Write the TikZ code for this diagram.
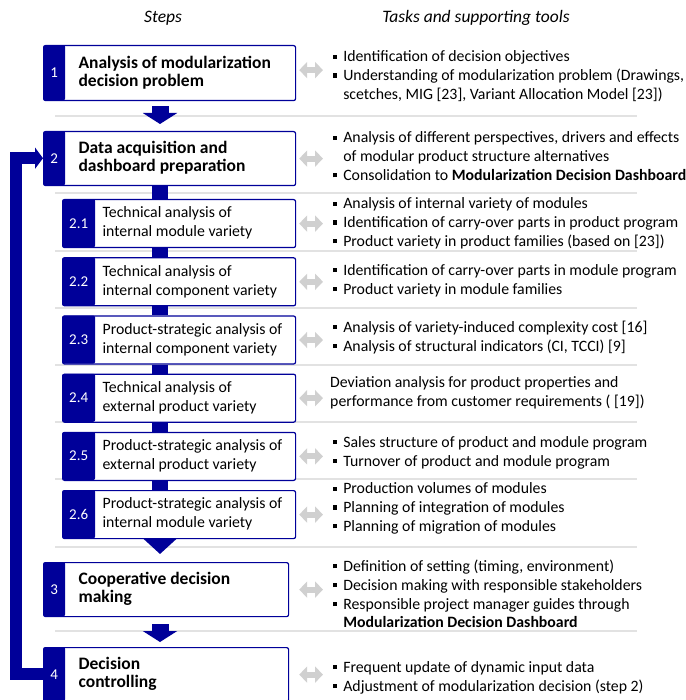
\documentclass[tikz,border=0pt]{standalone}
\usepackage{fontspec}
\setmainfont{Carlito}
\usetikzlibrary{arrows.meta,positioning}
\definecolor{navy}{RGB}{0,0,153}
\definecolor{toolgray}{RGB}{208,208,208}
\definecolor{sepgray}{RGB}{226,226,226}
\newcommand{\sqbul}{\rule[0.2em]{0.26em}{0.26em}}

\begin{document}
\begin{tikzpicture}[x=1pt,y=-1pt,
    stepbox/.style={draw=navy,line width=1.2pt,rounded corners=2pt,fill=white,inner sep=0pt,
                    anchor=north west,minimum width=252pt,minimum height=55pt},
    subbox/.style={stepbox,minimum width=233pt,minimum height=48pt},
    numbox/.style={fill=navy,rounded corners=2pt,inner sep=0pt,anchor=north west,text=white,
                   font=\fontsize{15}{16}\selectfont},
    steptext/.style={anchor=west,align=left,inner sep=0pt,font=\fontsize{17.5}{18}\selectfont\bfseries},
    subtext/.style={anchor=west,align=left,inner sep=0pt,font=\fontsize{15.8}{19}\selectfont},
    tasks/.style={anchor=west,inner sep=0pt,font=\fontsize{15.8}{18.8}\selectfont},
    head/.style={font=\fontsize{17.5}{18}\selectfont\itshape},
    flow/.style={navy,line width=17pt,-{Triangle[length=11pt,width=34pt]}},
    link/.style={navy,line width=16pt},
    back/.style={navy,line width=12pt,-{Triangle[length=8pt,width=21pt]}},
    tool/.style={toolgray,line width=6pt,{Triangle[length=8pt,width=16pt]}-{Triangle[length=8pt,width=16pt]}},
    sep/.style={sepgray,line width=1.2pt},
  ]
  \useasboundingbox (0,0) rectangle (685,700);
  \clip (0,0) rectangle (685,700);

  % separators
  \foreach \y in {116,193,251,308,365,422,479,547,631}
    \draw[sep] (55,\y) -- (637,\y);

  \node[head] (hsteps) at (163,18) {Steps};
  \node[head] (htasks) at (476,18) {Tasks and supporting tools};
  \coordinate (ax) at (160,0);

  % main steps
  \node[stepbox] (s1) at (43,45) {};
  \node[numbox,minimum width=22pt,minimum height=55pt] (n1) at (43,45) {1};
  \node[steptext] (t1) at ([xshift=13pt]n1.east) {Analysis of modularization\\decision problem};

  \node[stepbox,minimum height=54pt] (s2) at (43,131) {};
  \node[numbox,minimum width=22pt,minimum height=54pt] (n2) at (43,131) {2};
  \node[steptext] (t2) at ([xshift=13pt]n2.east) {Data acquisition and\\dashboard preparation};

  % sub steps
  \node[subbox] (s21) at (62,199) {};
  \node[subbox,below=9pt of s21] (s22) {};
  \node[subbox,below=9pt of s22] (s23) {};
  \node[subbox,below=9pt of s23] (s24) {};
  \node[subbox,below=9pt of s24] (s25) {};
  \node[subbox,below=9pt of s25] (s26) {};
  \draw[link] (s2.south -| ax) -- (s21.north -| ax);
  \draw[link] (s21.south -| ax) -- (s22.north -| ax);
  \draw[link] (s22.south -| ax) -- (s23.north -| ax);
  \draw[link] (s23.south -| ax) -- (s24.north -| ax);
  \draw[link] (s24.south -| ax) -- (s25.north -| ax);
  \draw[link] (s25.south -| ax) -- (s26.north -| ax);

  \node[numbox,minimum width=33pt,minimum height=48pt] (n21) at (s21.north west) {2.1};
  \node[numbox,minimum width=33pt,minimum height=48pt] (n22) at (s22.north west) {2.2};
  \node[numbox,minimum width=33pt,minimum height=48pt] (n23) at (s23.north west) {2.3};
  \node[numbox,minimum width=33pt,minimum height=48pt] (n24) at (s24.north west) {2.4};
  \node[numbox,minimum width=33pt,minimum height=48pt] (n25) at (s25.north west) {2.5};
  \node[numbox,minimum width=33pt,minimum height=48pt] (n26) at (s26.north west) {2.6};
  \node[subtext] (t21) at ([xshift=7pt]n21.east) {Technical analysis of\\internal module variety};
  \node[subtext] (t22) at ([xshift=7pt]n22.east) {Technical analysis of\\internal component variety};
  \node[subtext] (t23) at ([xshift=7pt]n23.east) {Product-strategic analysis of\\internal component variety};
  \node[subtext] (t24) at ([xshift=7pt]n24.east) {Technical analysis of\\external product variety};
  \node[subtext] (t25) at ([xshift=7pt]n25.east) {Product-strategic analysis of\\external product variety};
  \node[subtext] (t26) at ([xshift=7pt]n26.east) {Product-strategic analysis of\\internal module variety};

  \node[stepbox,minimum width=245pt,minimum height=54pt] (s3) at (43,562) {};
  \node[numbox,minimum width=22pt,minimum height=54pt] (n3) at (43,562) {3};
  \node[steptext] (t3) at ([xshift=13pt]n3.east) {Cooperative decision\\making};

  \node[stepbox,minimum width=245pt,minimum height=54pt] (s4) at (43,647) {};
  \node[numbox,minimum width=22pt,minimum height=54pt] (n4) at (43,647) {4};
  \node[steptext] (t4) at ([xshift=13pt]n4.east) {Decision\\controlling};

  \draw[flow,shorten <=5pt,shorten >=7pt] (s1.south -| ax) -- (s2.north -| ax);
  \draw[flow,-{Triangle[length=16pt,width=34pt]},shorten >=8pt] (s26.south -| ax) -- (s3.north -| ax);
  \draw[flow,shorten <=7pt,shorten >=5pt] (s3.south -| ax) -- (s4.north -| ax);
  \draw[back] (n4.west) -- ++(-27,0) |- (n2.west);

  % tasks and tools
  \node[tasks] (r1) at (333,77) {\begin{tabular}{@{}l@{\hspace{6pt}}l@{}}
    \sqbul & Identification of decision objectives\\
    \sqbul & Understanding of modularization problem (Drawings,\\
           & scetches, MIG [23], Variant Allocation Model [23])\end{tabular}};
  \node[tasks] (r2) at (333,158) {\begin{tabular}{@{}l@{\hspace{6pt}}l@{}}
    \sqbul & Analysis of different perspectives, drivers and effects\\
           & of modular product structure alternatives\\
    \sqbul & Consolidation to \textbf{Modularization Decision Dashboard}\end{tabular}};
  \node[tasks] (r21) at (333,224) {\begin{tabular}{@{}l@{\hspace{6pt}}l@{}}
    \sqbul & Analysis of internal variety of modules\\
    \sqbul & Identification of carry-over parts in product program\\
    \sqbul & Product variety in product families (based on [23])\end{tabular}};
  \node[tasks] (r22) at (333,281) {\begin{tabular}{@{}l@{\hspace{6pt}}l@{}}
    \sqbul & Identification of carry-over parts in module program\\
    \sqbul & Product variety in module families\end{tabular}};
  \node[tasks] (r23) at (333,338) {\begin{tabular}{@{}l@{\hspace{6pt}}l@{}}
    \sqbul & Analysis of variety-induced complexity cost [16]\\
    \sqbul & Analysis of structural indicators (CI, TCCI) [9]\end{tabular}};
  \node[tasks,align=left] (r24) at (330,393) {Deviation analysis for product properties and\\
    performance from customer requirements ( [19])};
  \node[tasks] (r25) at (333,453) {\begin{tabular}{@{}l@{\hspace{6pt}}l@{}}
    \sqbul & Sales structure of product and module program\\
    \sqbul & Turnover of product and module program\end{tabular}};
  \node[tasks] (r26) at (333,509) {\begin{tabular}{@{}l@{\hspace{6pt}}l@{}}
    \sqbul & Production volumes of modules\\
    \sqbul & Planning of integration of modules\\
    \sqbul & Planning of migration of modules\end{tabular}};
  \node[tasks] (r3) at (333,596) {\begin{tabular}{@{}l@{\hspace{6pt}}l@{}}
    \sqbul & Definition of setting (timing, environment)\\
    \sqbul & Decision making with responsible stakeholders\\
    \sqbul & Responsible project manager guides through\\
           & \textbf{Modularization Decision Dashboard}\end{tabular}};
  \node[tasks] (r4) at (333,678) {\begin{tabular}{@{}l@{\hspace{6pt}}l@{}}
    \sqbul & Frequent update of dynamic input data\\
    \sqbul & Adjustment of modularization decision (step 2)\end{tabular}};

  \draw[tool] ([xshift=3pt,yshift=3pt]s1.east) -- ([xshift=-10pt,yshift=3pt]s1.east -| r1.west);
  \draw[tool] ([xshift=3pt]s2.east) -- ([xshift=-10pt]s2.east -| r2.west);
  \draw[tool] ([xshift=3pt]s21.east) -- ([xshift=-10pt]s21.east -| r21.west);
  \draw[tool] ([xshift=3pt]s22.east) -- ([xshift=-10pt]s22.east -| r22.west);
  \draw[tool] ([xshift=3pt]s23.east) -- ([xshift=-10pt]s23.east -| r23.west);
  \draw[tool] ([xshift=3pt]s24.east) -- ([xshift=-7pt]s24.east -| r24.west);
  \draw[tool] ([xshift=3pt]s25.east) -- ([xshift=-10pt]s25.east -| r25.west);
  \draw[tool] ([xshift=3pt]s26.east) -- ([xshift=-10pt]s26.east -| r26.west);
  \draw[tool] ([xshift=10pt]s3.east) -- ([xshift=-10pt]s3.east -| r3.west);
  \draw[tool] ([xshift=10pt]s4.east) -- ([xshift=-10pt]s4.east -| r4.west);
\end{tikzpicture}
\end{document}
